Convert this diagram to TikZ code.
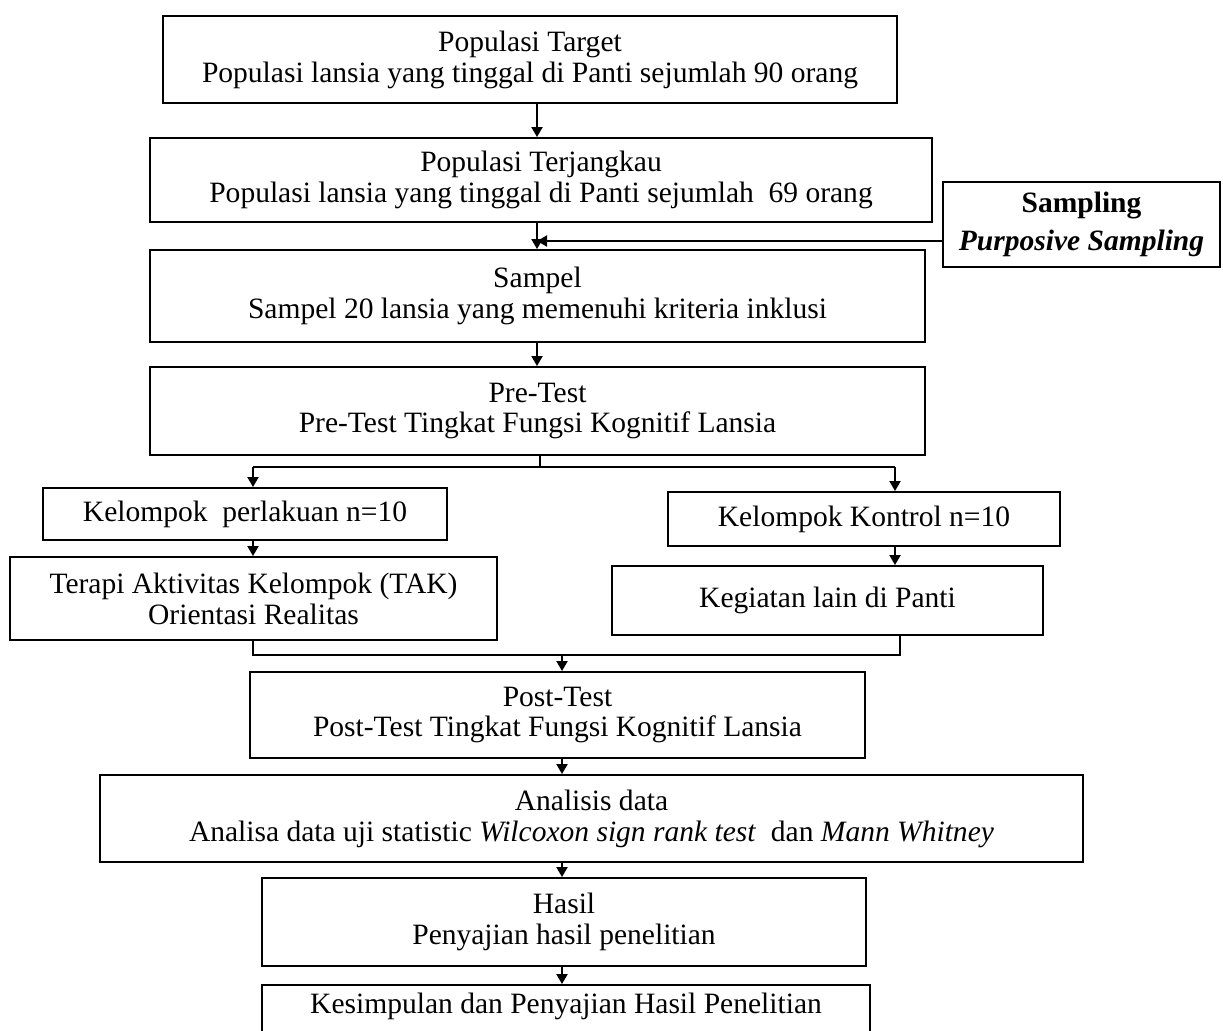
\documentclass[tikz,border=0pt]{standalone}
\usepackage{fontspec}
\setmainfont{Liberation Serif}
\usetikzlibrary{arrows.meta}
\begin{document}
\begin{tikzpicture}[
  box/.style={draw, line width=1.1pt, align=center, inner sep=0pt,
    font=\fontsize{16.8}{17.6}\selectfont},
  txt/.style={align=center, inner sep=0pt, font=\fontsize{16.8}{17.6}\selectfont},
  ln/.style={line width=1.1pt},
  arr/.style={line width=1.1pt, -{Triangle[length=0.2cm,width=0.22cm]}}
]
\useasboundingbox (0,0) rectangle (24.46,-20.6);
\fill[white] (0,0) rectangle (24.46,-20.6);
\clip (0,0) rectangle (24.46,-20.6);

\node[box, minimum width=14.68cm, minimum height=1.74cm] (b1) at (10.6,-1.19)
  {Populasi Target\\Populasi lansia yang tinggal di Panti sejumlah 90 orang};
\node[box, minimum width=15.64cm, minimum height=1.68cm] (b2) at (10.82,-3.6)
  {Populasi Terjangkau\\Populasi lansia yang tinggal di Panti sejumlah\ \ 69 orang};
\node[box, minimum width=5.54cm, minimum height=1.7cm] (bs) at (21.63,-4.49)
  {\bfseries Sampling\\[4pt]\bfseries\itshape Purposive Sampling};
\node[box, minimum width=15.5cm, minimum height=1.84cm] (b4) at (10.75,-5.92)
  {Sampel\\Sampel 20 lansia yang memenuhi kriteria inklusi};
\node[box, minimum width=15.5cm, minimum height=1.76cm] (b5) at (10.75,-8.22)
  {Pre-Test\\Pre-Test Tingkat Fungsi Kognitif Lansia};
\node[box, minimum width=8.08cm, minimum height=1.04cm] (b6) at (4.9,-10.28)
  {Kelompok\ \ perlakuan n=10};
\node[box, minimum width=7.84cm, minimum height=1.08cm] (b7) at (17.28,-10.38)
  {Kelompok Kontrol n=10};
\node[box, minimum width=9.74cm, minimum height=1.66cm] (b8) at (5.07,-11.97)
  {Terapi Aktivitas Kelompok (TAK)\\Orientasi Realitas};
\node[box, minimum width=8.62cm, minimum height=1.38cm] (b9) at (16.55,-12.01)
  {Kegiatan lain di Panti};
\node[box, minimum width=12.3cm, minimum height=1.72cm] (b10) at (11.15,-14.3)
  {Post-Test\\Post-Test Tingkat Fungsi Kognitif Lansia};
\node[box, minimum width=19.66cm, minimum height=1.74cm] (b11) at (11.83,-16.37)
  {Analisis data\\Analisa data uji statistic \textit{Wilcoxon sign rank test}\ \ dan \textit{Mann Whitney}};
\node[box, minimum width=12.08cm, minimum height=1.76cm] (b12) at (11.28,-18.44)
  {Hasil\\Penyajian hasil penelitian};
\node[box, minimum width=12.16cm, minimum height=1.5cm] (b13) at (11.32,-20.45) {};
\node[txt] (b13t) at (11.32,-20.12) {Kesimpulan dan Penyajian Hasil Penelitian};

\coordinate (cx1) at (10.74,0);
\coordinate (sy) at (0,-4.82);
\draw[arr] (b1.south -| cx1) -- (b2.north -| cx1);
\draw[arr] (b2.south -| cx1) -- (b4.north -| cx1);
\draw[arr] (bs.west |- sy) -- (cx1 |- sy);
\draw[arr] (b4.south -| cx1) -- (b5.north -| cx1);

\coordinate (sp) at (10.8,-9.34);
\coordinate (spl) at (5.06,-9.34);
\coordinate (spr) at (17.9,-9.34);
\draw[ln] (b5.south -| sp) -- (sp);
\draw[ln] (spl) -- (spr);
\draw[arr] (spl) -- (spl |- b6.north);
\draw[arr] (spr) -- (spr |- b7.north);
\draw[arr] (b6.south -| spl) -- (b8.north -| spl);
\draw[arr] (b7.south -| spr) -- (b9.north -| spr);

\coordinate (ml) at (5.06,-13.1);
\coordinate (mr) at (18.0,-13.1);
\coordinate (mc) at (11.24,-13.1);
\draw[ln] (b8.south -| ml) -- (ml) -- (mr) -- (b9.south -| mr);
\draw[arr] (mc) -- (b10.north -| mc);
\draw[arr] (b10.south -| mc) -- (b11.north -| mc);
\draw[arr] (b11.south -| mc) -- (b12.north -| mc);
\draw[arr] (b12.south -| mc) -- (b13.north -| mc);
\end{tikzpicture}
\end{document}
